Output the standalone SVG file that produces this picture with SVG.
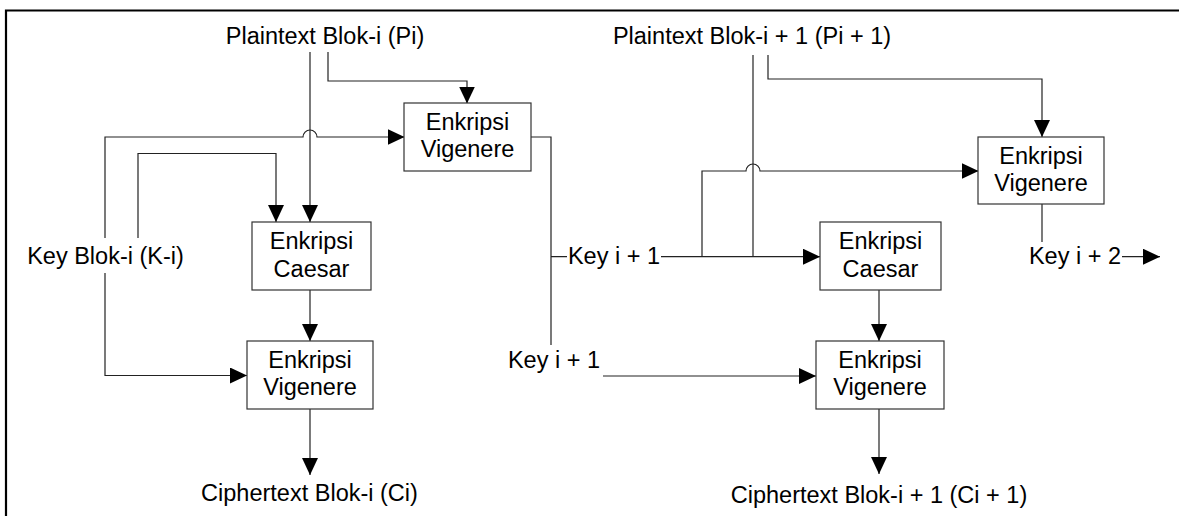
<svg xmlns="http://www.w3.org/2000/svg" width="1179" height="516" viewBox="0 0 1179 516">
<style>
text{font-family:"Liberation Sans",Arial,sans-serif;font-size:23.5px;fill:#000;text-anchor:middle}
.box{fill:#fff;stroke:#333;stroke-width:1.2}
.c{fill:none;stroke:#222;stroke-width:1.2}
.a{marker-end:url(#ah)}
</style>
<defs>
<marker id="ah" markerUnits="userSpaceOnUse" markerWidth="17" markerHeight="16" refX="17" refY="8" orient="auto">
<path d="M0,0 L17,8 L0,16 z" fill="#000"/>
</marker>
</defs>
<rect width="1179" height="516" fill="#fff"/>
<path d="M6,516 V10.5 H1179" fill="none" stroke="#000" stroke-width="2.2"/>
<g id="connectors">
<path class="c a" d="M310,52 V222"/>
<path class="c a" d="M328,52 V81 H467 V103.5"/>
<path class="c a" d="M105,238 V137 H303 A7,7 0 0 1 317,137 H404.5"/>
<path class="c a" d="M105,273 V375.5 H247"/>
<path class="c a" d="M138,238 V153.5 H276 V222"/>
<path class="c a" d="M310,290 V341"/>
<path class="c a" d="M310,409 V475"/>
<path class="c" d="M531,137 H551 V345 M551,256.7 H567"/>
<path class="c a" d="M661,256.7 H820"/>
<path class="c a" d="M702,256.7 V171 H746 A7,7 0 0 1 760,171 H978.5"/>
<path class="c" d="M753,55 V256.7"/>
<path class="c a" d="M768,55 V79 H1042 V137"/>
<path class="c" d="M1042,204 V242"/>
<path class="c a" d="M1122,256.7 H1160"/>
<path class="c a" d="M603,376 H816"/>
<path class="c a" d="M879,290 V341"/>
<path class="c a" d="M879,409 V474"/>
</g>
<g id="plain-i"><text x="325" y="43.5">Plaintext Blok-i (Pi)</text></g>
<g id="plain-i1"><text x="752" y="44">Plaintext Blok-i + 1 (Pi + 1)</text></g>
<g id="key-i"><text x="105.5" y="264">Key Blok-i (K-i)</text></g>
<g id="key-i1-a"><text x="614" y="264">Key i + 1</text></g>
<g id="key-i1-b"><text x="554" y="367.5">Key i + 1</text></g>
<g id="key-i2"><text x="1075" y="264">Key i + 2</text></g>
<g id="cipher-i"><text x="309.5" y="501">Ciphertext Blok-i (Ci)</text></g>
<g id="cipher-i1"><text x="879" y="503">Ciphertext Blok-i + 1 (Ci + 1)</text></g>
<g id="vig-top-left"><rect class="box" x="404" y="103" width="127" height="68"/><text x="467.5" y="130">Enkripsi</text><text x="467.5" y="157">Vigenere</text></g>
<g id="caesar-left"><rect class="box" x="252" y="222" width="119" height="68"/><text x="311.5" y="249">Enkripsi</text><text x="311.5" y="277">Caesar</text></g>
<g id="vig-bottom-left"><rect class="box" x="247" y="341" width="126" height="68"/><text x="310" y="368.3">Enkripsi</text><text x="310" y="395">Vigenere</text></g>
<g id="vig-top-right"><rect class="box" x="978" y="137" width="126" height="67"/><text x="1041" y="164">Enkripsi</text><text x="1041" y="190.5">Vigenere</text></g>
<g id="caesar-right"><rect class="box" x="820" y="222" width="121" height="68"/><text x="880.5" y="249">Enkripsi</text><text x="880.5" y="277">Caesar</text></g>
<g id="vig-bottom-right"><rect class="box" x="816" y="341" width="128" height="68"/><text x="880" y="368.3">Enkripsi</text><text x="880" y="395">Vigenere</text></g>
</svg>
